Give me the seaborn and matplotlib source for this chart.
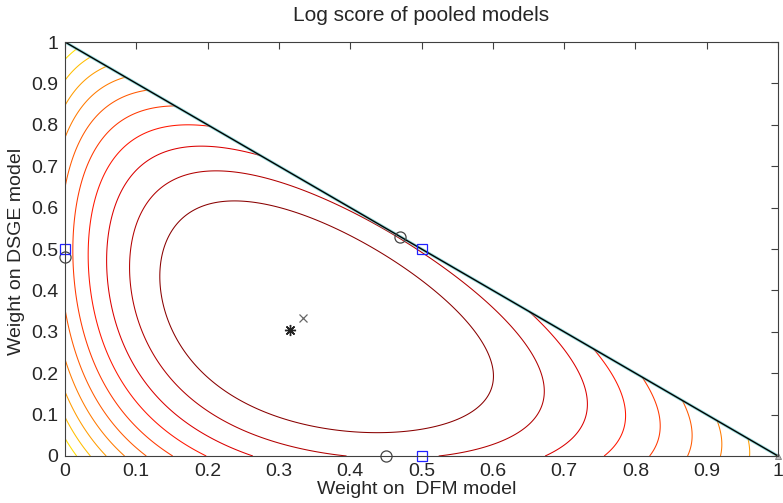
import numpy as np
import matplotlib
matplotlib.use("Agg")
import matplotlib.pyplot as plt
import seaborn as sns

# marks
opt_x, opt_y = [0.316], [0.304]            # best pool (asterisk)
equal_x, equal_y = [1 / 3], [1 / 3]        # equal weights (cross)
edge_opt_x = [0.45, 0.47, 0.0]             # best pool on each edge (circles)
edge_opt_y = [0.0, 0.53, 0.48]
edge_equal_x = [0.5, 0.5, 0.0]             # equal weights on each edge (squares)
edge_equal_y = [0.0, 0.5, 0.5]
corner_x, corner_y = [1.0], [0.0]
simplex_x, simplex_y = [0.0, 1.0], [1.0, 0.0]

# log score surface: sum of log mixture terms (coefficients tuned to the picture)
n_dfm, e_dfm = 0.5501, 0.16617
n_dsge, a_dsge, c_dsge = 1.0275, 0.3823, 0.3865
b_third, d_third = 0.3723, 0.3670
top_level = -1.546       # innermost contour
level_step = 0.0431

ticks = [0, 0.1, 0.2, 0.3, 0.4, 0.5, 0.6, 0.7, 0.8, 0.9, 1]
tick_labels = ["0", "0.1", "0.2", "0.3", "0.4", "0.5", "0.6", "0.7", "0.8", "0.9", "1"]


def log_score(x, y):
    w3 = 1.0 - x - y
    return (n_dfm * np.log(x + e_dfm)
            + n_dsge * np.log(y + a_dsge * w3 + c_dsge * x)
            + np.log(w3 + b_third * y + d_third * x))


sns.set_style("white")
plt.rcParams["font.family"] = ["Liberation Sans", "DejaVu Sans"]

fig = plt.figure(figsize=(7.83, 5.03), dpi=100)
ax = fig.add_axes([65 / 783, 47 / 503, 713 / 783, 414 / 503])

grid = np.linspace(0, 1, 701)
X, Y = np.meshgrid(grid, grid)
Z = np.ma.masked_where(X + Y > 1 + 1e-9, log_score(X, Y))

nlev = int((top_level - Z.min()) / level_step) + 1
k = np.arange(nlev)
levels = (top_level - k * level_step)[::-1]
jet = plt.get_cmap("jet")
colors = [jet(max(0.99 - 0.035 * i, 0.62)) for i in k][::-1]
ax.contour(X, Y, Z, levels=levels, colors=colors, linewidths=0.75)

# edge of the simplex
ax.plot(simplex_x, simplex_y, color="#40c0c0", lw=2.2, alpha=0.55)
ax.plot(simplex_x, simplex_y, color="black", lw=1.0)

ax.plot(opt_x, opt_y, marker=(8, 2, 0), ms=8, mew=1.0, color="#222222", ls="none")
ax.plot(equal_x, equal_y, "x", ms=6, mew=0.9, color="#666666", ls="none")
ax.plot(edge_opt_x, edge_opt_y, "o", ms=8, mfc="none", mec="#444444", mew=0.9, ls="none", clip_on=False)
ax.plot(edge_equal_x, edge_equal_y, "s", ms=7, mfc="none", mec="#2020ff", mew=0.9, ls="none", clip_on=False)
ax.plot(corner_x, corner_y, "^", ms=5, mfc="#bbbbbb", mec="#777777", mew=0.6, ls="none", clip_on=False)

ax.set_xlim(0, 1)
ax.set_ylim(0, 1)
ax.set_xticks(ticks, tick_labels)
ax.set_yticks(ticks, tick_labels)
ax.tick_params(direction="in", length=5, width=0.8, labelsize=14, top=True, right=True,
               color="#404040", pad=5)
for sp in ax.spines.values():
    sp.set_color("#404040")
    sp.set_linewidth(0.8)

ax.text(0.5, 1 + 27 / 414, "Log score of pooled models", transform=ax.transAxes,
        ha="center", va="center", fontsize=15)
ax.text(0.493, -34 / 414, "Weight on  DFM model", transform=ax.transAxes,
        ha="center", va="center", fontsize=14)
ax.text(-48 / 713, 0.493, "Weight on DSGE model", transform=ax.transAxes,
        ha="center", va="center", rotation=90, fontsize=14)

fig.savefig("out.png", dpi=100)
